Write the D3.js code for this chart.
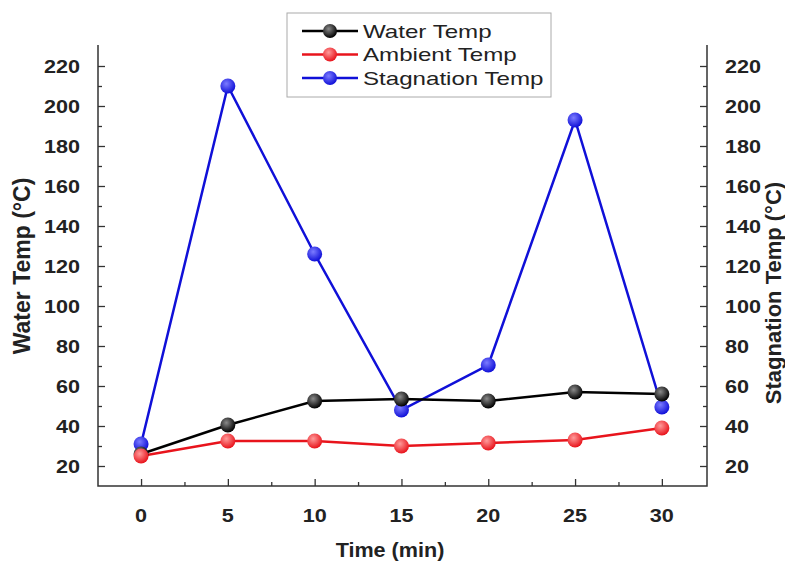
<!DOCTYPE html>
<html>
<head>
<meta charset="utf-8">
<script src="https://cdn.jsdelivr.net/npm/d3@7"></script>
<style>
  body { margin: 0; background: #fff; }
  text { font-family: Arial, "Liberation Sans", sans-serif; }
</style>
</head>
<body>
<svg id="chart" width="785" height="565"></svg>
<script>
const times = [0, 5, 10, 15, 20, 25, 30];
const waterTemp = [26, 40.5, 52.5, 53.5, 52.5, 57, 56];
const ambientTemp = [25, 32.5, 32.5, 30, 31.5, 33, 39];
const stagnationTemp = [31, 210, 126, 48, 70.5, 193, 49.5];
const yTicks = [20, 40, 60, 80, 100, 120, 140, 160, 180, 200, 220];
const xTicks = [0, 5, 10, 15, 20, 25, 30];

const series = [
  { name: 'Water Temp', values: waterTemp, color: '#000000', light: '#8a8a8a' },
  { name: 'Ambient Temp', values: ambientTemp, color: '#e8141c', light: '#ff9a9a' },
  { name: 'Stagnation Temp', values: stagnationTemp, color: '#1010d8', light: '#7c7cff' }
];

const svg = d3.select('#chart');
const plotLeft = 98, plotRight = 707, plotTop = 45, plotBottom = 486;

const x = d3.scaleLinear().domain([-2.48, 32.6]).range([plotLeft, plotRight]);
const y = d3.scaleLinear().domain([10, 230.5]).range([plotBottom, plotTop]);

// text that is a bit wider than normal, like the source picture
function wideText(sel, px, py, sx, size, txt) {
  return sel.append('text')
    .attr('transform', `translate(${px},${py}) scale(${sx},1)`)
    .attr('font-size', size).attr('fill', '#222').text(txt);
}

// gradients for the shiny markers
const defs = svg.append('defs');
series.forEach((s, i) => {
  const g = defs.append('radialGradient')
    .attr('id', 'ball' + i)
    .attr('cx', '40%').attr('cy', '35%').attr('r', '65%');
  g.append('stop').attr('offset', '0%').attr('stop-color', s.light);
  g.append('stop').attr('offset', '100%').attr('stop-color', s.color);
});

const axisColor = '#333';
const minorY = d3.range(30, 230, 20);
const minorX = d3.range(2.5, 30, 5);

// left axis (inward ticks)
const yl = svg.append('g').attr('transform', `translate(${plotLeft},0)`)
  .call(d3.axisRight(y).tickValues(yTicks).tickSize(7).tickFormat(''));
yl.append('g').call(d3.axisRight(y).tickValues(minorY).tickSize(4).tickFormat(''));

// right axis
const yr = svg.append('g').attr('transform', `translate(${plotRight},0)`)
  .call(d3.axisLeft(y).tickValues(yTicks).tickSize(7).tickFormat(''));
yr.append('g').call(d3.axisLeft(y).tickValues(minorY).tickSize(4).tickFormat(''));

// bottom axis
const xb = svg.append('g').attr('transform', `translate(0,${plotBottom})`)
  .call(d3.axisTop(x).tickValues(xTicks).tickSize(7).tickFormat(''));
xb.append('g').call(d3.axisTop(x).tickValues(minorX).tickSize(4).tickFormat(''));

svg.selectAll('.domain').remove();
svg.selectAll('.tick line').attr('stroke', axisColor).attr('stroke-width', 1.3);

// axis lines
svg.append('path')
  .attr('d', `M${plotLeft},${plotTop}V${plotBottom}H${plotRight}V${plotTop}`)
  .attr('fill', 'none').attr('stroke', axisColor).attr('stroke-width', 1.5);

// tick labels
const labels = svg.append('g').attr('font-weight', 'bold');
yTicks.forEach(d => {
  wideText(labels, 80, y(d) + 6.5, 1.2, 18, d).attr('text-anchor', 'end');
  wideText(labels, 725, y(d) + 6.5, 1.2, 18, d).attr('text-anchor', 'start');
});
xTicks.forEach(d => {
  wideText(labels, x(d), 522, 1.2, 18, d).attr('text-anchor', 'middle');
});

// axis titles
wideText(svg, 390, 557, 1.08, 20, 'Time (min)')
  .attr('text-anchor', 'middle').attr('font-weight', 'bold');
svg.append('text').attr('transform', 'translate(30,266) rotate(-90)')
  .attr('text-anchor', 'middle').attr('font-size', 23).attr('font-weight', 'bold')
  .attr('fill', '#222').text('Water Temp (°C)');
svg.append('text').attr('transform', 'translate(781,293) rotate(-90)')
  .attr('text-anchor', 'middle').attr('font-size', 22).attr('font-weight', 'bold')
  .attr('fill', '#222').text('Stagnation Temp (°C)');

// lines and markers
const line = d3.line().x((d, i) => x(times[i])).y(d => y(d));
const order = [2, 0, 1];
order.forEach(i => {
  const s = series[i];
  svg.append('path').datum(s.values)
    .attr('d', line).attr('fill', 'none')
    .attr('stroke', s.color).attr('stroke-width', 2.5);
});
order.forEach(i => {
  const s = series[i];
  svg.append('g').selectAll('circle').data(s.values).join('circle')
    .attr('cx', (d, j) => x(times[j])).attr('cy', d => y(d)).attr('r', 7.5)
    .attr('fill', `url(#ball${i})`);
});

// legend
const lg = svg.append('g');
lg.append('rect').attr('x', 287).attr('y', 13).attr('width', 264).attr('height', 84)
  .attr('fill', '#fff').attr('stroke', '#aaa').attr('stroke-width', 1);
series.forEach((s, i) => {
  const ly = 31 + i * 23.5;
  lg.append('line').attr('x1', 302).attr('x2', 358).attr('y1', ly).attr('y2', ly)
    .attr('stroke', s.color).attr('stroke-width', 2.5);
  lg.append('circle').attr('cx', 330).attr('cy', ly).attr('r', 7).attr('fill', `url(#ball${i})`);
  wideText(lg, 363, ly + 6.5, 1.34, 18, s.name);
});
</script>
</body>
</html>
